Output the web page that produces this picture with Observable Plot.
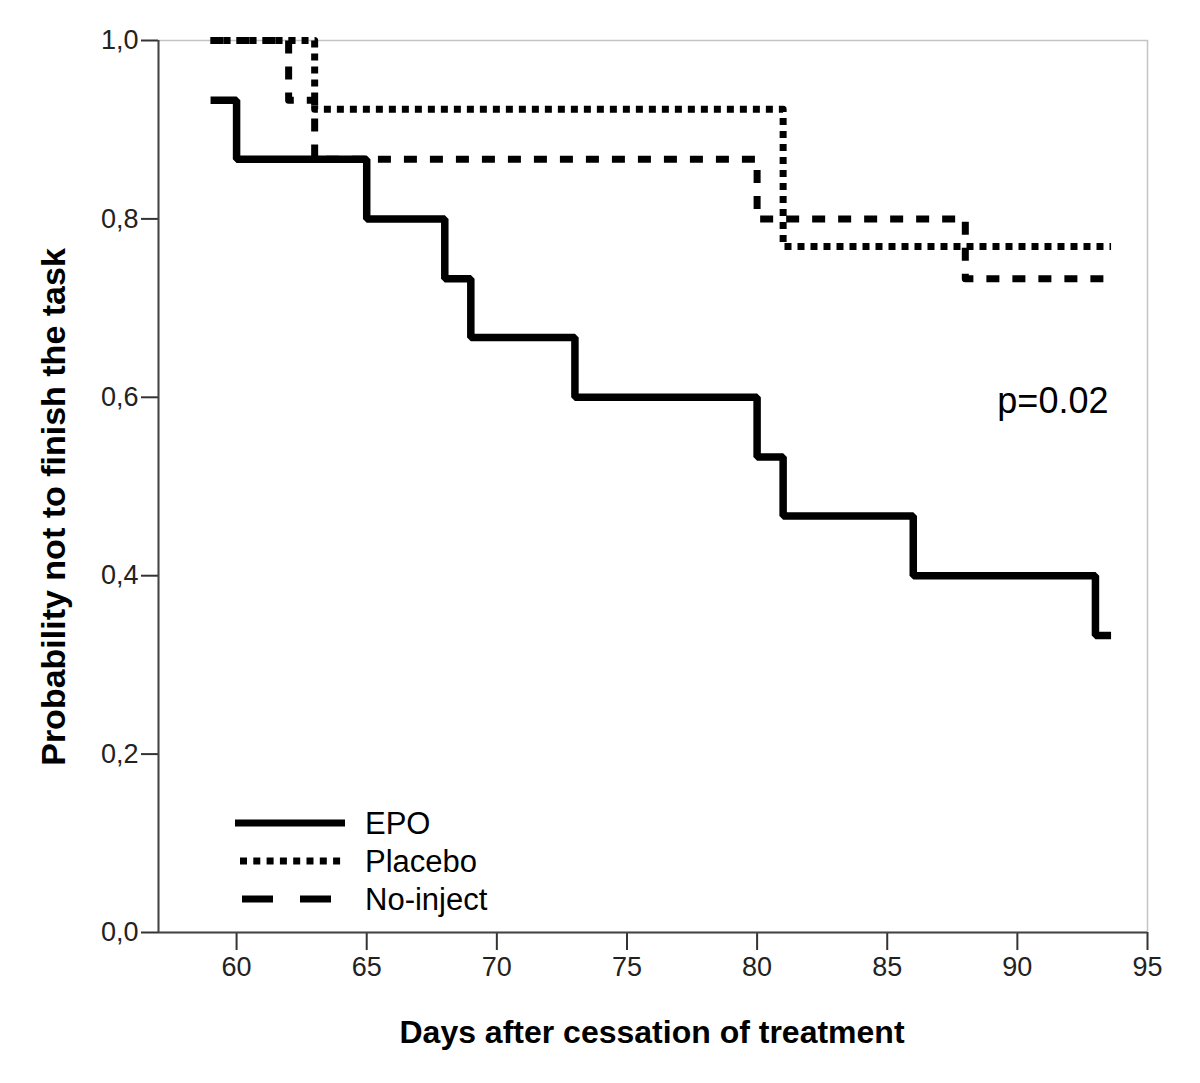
<!DOCTYPE html>
<html>
<head>
<meta charset="utf-8">
<script src="https://cdn.jsdelivr.net/npm/d3@7"></script>
<script src="https://cdn.jsdelivr.net/npm/@observablehq/plot@0.6"></script>
<style>
  body { margin: 0; background: #fff; }
  #chart svg { display: block; background: #fff; }
</style>
</head>
<body>
<div id="chart"></div>
<script>
// ---- data ----
const epoDays     = [59, 60, 65, 68, 69, 73, 80, 81, 86, 93, 93.6];
const epoSurv     = [0.933, 0.867, 0.800, 0.733, 0.667, 0.600, 0.533, 0.467, 0.400, 0.333, 0.333];
const placeboDays = [59, 63, 81, 93.6];
const placeboSurv = [1.000, 0.923, 0.769, 0.769];
const noinjDays   = [59, 62, 63, 80, 88, 93.6];
const noinjSurv   = [1.000, 0.933, 0.867, 0.800, 0.733, 0.733];
const seriesNames = ["EPO", "Placebo", "No-inject"];
const xTicks = [60, 65, 70, 75, 80, 85, 90, 95];
const yTicks = [0, 0.2, 0.4, 0.6, 0.8, 1.0];
const pText = "p=0.02";

const toRows = (days, surv) => days.map((d, i) => ({day: d, p: surv[i]}));
const epo = toRows(epoDays, epoSurv);
const placebo = toRows(placeboDays, placeboSurv);
const noinj = toRows(noinjDays, noinjSurv);

const styles = {
  "EPO":       {dash: null,    legendDash: null},
  "Placebo":   {dash: "7,6",   legendDash: "7,6.3"},
  "No-inject": {dash: "13,13", legendDash: "31,27"}
};

const W = 1200, H = 1083;
const font = "'Liberation Sans', Arial, Helvetica, sans-serif";

const plot = Plot.plot({
  width: W,
  height: H,
  marginLeft: 158,
  marginRight: 53,
  marginTop: 40,
  marginBottom: 151,
  style: {fontFamily: font, background: "#fff", fontSize: "27px"},
  x: {domain: [57, 95]},
  y: {domain: [0, 1]},
  marks: [
    Plot.frame({stroke: "#c4c4c4", strokeWidth: 1.5}),
    Plot.axisX({ticks: xTicks, tickSize: 18, tickPadding: 6, label: null,
      stroke: "#333", strokeWidth: 2, fill: "#222"}),
    Plot.axisY({ticks: yTicks, tickSize: 17, tickPadding: 3, label: null,
      tickFormat: d => d.toFixed(1).replace(".", ","),
      stroke: "#333", strokeWidth: 2, fill: "#222"}),
    Plot.ruleX([57], {stroke: "#444", strokeWidth: 2}),
    Plot.ruleY([0], {stroke: "#444", strokeWidth: 2}),
    Plot.line(epo, {x: "day", y: "p", curve: "step-after", stroke: "#000",
      strokeWidth: 7.5, strokeLinecap: "butt", strokeLinejoin: "miter"}),
    Plot.line(placebo, {x: "day", y: "p", curve: "step-after", stroke: "#000",
      strokeWidth: 7, strokeLinecap: "butt", strokeDasharray: styles["Placebo"].dash}),
    Plot.line(noinj, {x: "day", y: "p", curve: "step-after", stroke: "#000",
      strokeWidth: 7, strokeLinecap: "butt", strokeDasharray: styles["No-inject"].dash}),
    Plot.text([pText], {x: 93.5, y: 0.6, text: d => d, textAnchor: "end",
      fontSize: 36, fill: "#000", dy: 4})
  ]
});

const svg = d3.select(plot);

// Legend (inside plot, bottom-left)
const leg = svg.append("g").attr("font-family", font).attr("text-anchor", "start");
const legY0 = 823, legStep = 38;
seriesNames.forEach((name, i) => {
  const y = legY0 + i * legStep;
  const x1 = name === "No-inject" ? 242 : (name === "Placebo" ? 240 : 235);
  const x2 = name === "No-inject" ? 332 : 345;
  leg.append("line")
    .attr("x1", x1).attr("x2", x2).attr("y1", y).attr("y2", y)
    .attr("stroke", "#000").attr("stroke-width", 7)
    .attr("stroke-dasharray", styles[name].legendDash);
  leg.append("text")
    .attr("x", 365).attr("y", y).attr("dy", "0.36em")
    .attr("text-anchor", "start")
    .attr("font-size", 31).attr("fill", "#000")
    .text(name);
});

// Axis titles
svg.append("text")
  .attr("transform", "translate(65,507) rotate(-90)")
  .attr("text-anchor", "middle")
  .attr("font-family", font).attr("font-size", 34).attr("font-weight", "bold")
  .attr("fill", "#000")
  .text("Probability not to finish the task");
svg.append("text")
  .attr("x", 652).attr("y", 1043)
  .attr("text-anchor", "middle")
  .attr("font-family", font).attr("font-size", 32).attr("font-weight", "bold")
  .attr("fill", "#000")
  .text("Days after cessation of treatment");

document.getElementById("chart").appendChild(plot);
</script>
</body>
</html>
